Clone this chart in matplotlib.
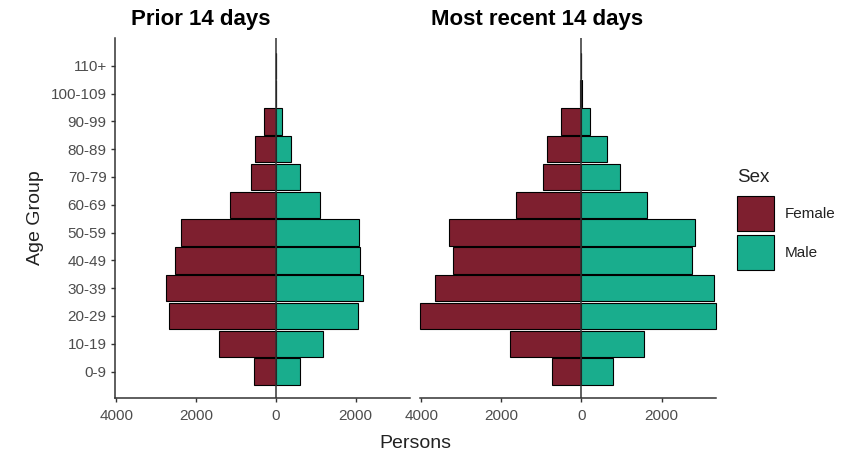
import numpy as np
import matplotlib
matplotlib.use('Agg')
import matplotlib.pyplot as plt
from matplotlib.patches import Patch

plt.rcParams['font.family'] = ['Liberation Sans', 'DejaVu Sans']

age_groups = ['0-9', '10-19', '20-29', '30-39', '40-49', '50-59',
              '60-69', '70-79', '80-89', '90-99', '100-109', '110+']

prior_female = [540, 1415, 2685, 2750, 2515, 2375, 1150, 625, 525, 300, 0, 0]
prior_male = [600, 1185, 2060, 2185, 2115, 2085, 1115, 600, 375, 165, 0, 0]
recent_female = [725, 1790, 4030, 3665, 3210, 3310, 1625, 960, 850, 500, 40, 0]
recent_male = [790, 1565, 3360, 3310, 2750, 2830, 1625, 955, 640, 210, 15, 0]

panel_titles = ['Prior 14 days', 'Most recent 14 days']
xticks = [-4000, -2000, 0, 2000]
xtick_labels = ['4000', '2000', '0', '2000']

female_col = '#7E1F2F'
male_col = '#19AD8D'
axis_col = '#333333'
tick_col = '#4D4D4D'

W, H = 848, 455
fig = plt.figure(figsize=(W / 100, H / 100), dpi=100)

def fx(px):
    return px / W

def fy(py):
    return 1 - py / H

ax1 = fig.add_axes([fx(115), fy(398), fx(295), (398 - 38) / H])
ax2 = fig.add_axes([fx(420), fy(398), fx(296), (398 - 38) / H])

y = np.arange(len(age_groups))
xmin = -max(max(prior_female), max(recent_female))
xmax = max(max(prior_male), max(recent_male))

for ax, fem, mal in [(ax1, prior_female, prior_male), (ax2, recent_female, recent_male)]:
    ax.barh(y, -np.array(fem), height=0.95, color=female_col, edgecolor='black',
            linewidth=0.8, zorder=2, clip_on=False)
    ax.barh(y, mal, height=0.95, color=male_col, edgecolor='black',
            linewidth=0.8, zorder=2, clip_on=False)
    ax.axvline(0, color=axis_col, lw=1.1, zorder=3)
    ax.set_xlim(xmin, xmax)
    ax.set_ylim(-0.95, 12.0)
    ax.set_xticks(xticks)
    ax.set_xticklabels(xtick_labels)
    for s in ['top', 'right']:
        ax.spines[s].set_visible(False)
    for s in ['left', 'bottom']:
        ax.spines[s].set_color(axis_col)
        ax.spines[s].set_linewidth(1.1)
    ax.tick_params(axis='both', colors=axis_col, labelcolor=tick_col, labelsize=11,
                   length=3, width=1, pad=3)
    ax.tick_params(axis='x', pad=5)

ax1.set_yticks(y)
ax1.set_yticklabels(age_groups)
ax2.set_yticks([])
ax2.spines['left'].set_visible(False)

fig.text(fx(201), fy(25), panel_titles[0], ha='center', va='baseline', fontsize=16, fontweight='bold')
fig.text(fx(537), fy(25), panel_titles[1], ha='center', va='baseline', fontsize=16, fontweight='bold')

fig.text(fx(415), fy(443), 'Persons', ha='center', va='center', fontsize=14, color='#222222')
fig.text(fx(35), fy(218), 'Age Group', ha='center', va='center', rotation=90, fontsize=14, color='#222222')

# legend
fig.text(fx(737), fy(177), 'Sex', ha='left', va='center', fontsize=13.5, color='#222222')
handles = [Patch(facecolor=female_col, edgecolor='black', linewidth=0.8),
           Patch(facecolor=male_col, edgecolor='black', linewidth=0.8)]
leg = fig.legend(handles, ['Female', 'Male'], loc='upper left',
                 bbox_to_anchor=(fx(737), fy(196)), frameon=False, fontsize=11,
                 handlelength=2.4, handleheight=3.14,
                 labelspacing=0.28, handletextpad=0.7, borderpad=0, borderaxespad=0)
for t in leg.get_texts():
    t.set_color('#222222')

fig.savefig('out.png', dpi=100)
